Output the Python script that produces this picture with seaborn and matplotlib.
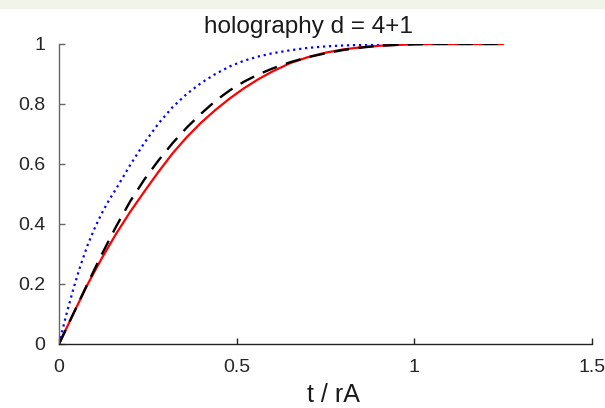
import matplotlib
matplotlib.use('Agg')
import matplotlib.pyplot as plt
import seaborn as sns
import numpy as np
from matplotlib.patches import Rectangle

# values
red_t = [0, 0.04, 0.08, 0.12, 0.16, 0.2, 0.24, 0.28, 0.32, 0.36, 0.40, 0.44, 0.48,
         0.52, 0.56, 0.60, 0.65, 0.70, 0.75, 0.80, 0.85, 0.90, 0.95, 1.0, 1.05, 1.25]
red_y = [0, 0.10, 0.198, 0.285, 0.366, 0.44, 0.508, 0.574, 0.636, 0.69, 0.738, 0.78, 0.818,
         0.852, 0.882, 0.908, 0.936, 0.956, 0.971, 0.982, 0.989, 0.994, 0.997, 0.999, 1.0, 1.0]

black_t = [0, 0.04, 0.08, 0.12, 0.16, 0.2, 0.24, 0.28, 0.32, 0.36, 0.40, 0.44, 0.48,
           0.52, 0.56, 0.60, 0.65, 0.70, 0.75, 0.80, 0.85, 0.90, 0.95, 1.0, 1.05, 1.25]
black_y = [0, 0.10, 0.20, 0.298, 0.39, 0.475, 0.548, 0.612, 0.67, 0.722, 0.768, 0.81, 0.845,
           0.874, 0.898, 0.918, 0.939, 0.956, 0.969, 0.98, 0.988, 0.994, 0.997, 0.999, 1.0, 1.0]

blue_t = [0, 0.02, 0.04, 0.06, 0.08, 0.10, 0.12, 0.14, 0.16, 0.2, 0.24, 0.28, 0.32, 0.36,
          0.40, 0.44, 0.48, 0.52, 0.56, 0.60, 0.65, 0.70, 0.75, 0.80, 0.85, 0.90, 1.0, 1.25]
blue_y = [0, 0.095, 0.182, 0.26, 0.328, 0.385, 0.435, 0.478, 0.516, 0.596, 0.67, 0.735, 0.79, 0.834,
          0.87, 0.90, 0.925, 0.944, 0.958, 0.969, 0.979, 0.987, 0.992, 0.995, 0.997, 0.999, 1.0, 1.0]

x_ticks = [0, 0.5, 1, 1.5]
y_ticks = [0, 0.2, 0.4, 0.6, 0.8, 1]

sns.set_style('ticks')
plt.rcParams['font.family'] = ['Liberation Sans', 'DejaVu Sans']

fig = plt.figure(figsize=(6.05, 4.08), dpi=100)
fig.patches.append(Rectangle((0, 1 - 8 / 408), 1, 8 / 408, transform=fig.transFigure,
                             color='#f1f4e8', zorder=0))
ax = fig.add_axes([59 / 605, 1 - 344 / 408, 533 / 605, 300 / 408])

sns.lineplot(x=blue_t, y=blue_y, ax=ax, color='#0000ff', linewidth=1.6,
             linestyle=(0, (1, 1.7)), dash_capstyle='butt')
sns.lineplot(x=red_t, y=red_y, ax=ax, color='#ff0000', linewidth=1.6)
sns.lineplot(x=black_t, y=black_y, ax=ax, color='black', linewidth=1.7,
             linestyle=(0, (6.5, 4.0)))

ax.set_xlim(0, 1.5)
ax.set_ylim(0, 1)
ax.set_xticks(x_ticks)
ax.set_xticklabels(['0', '0.5', '1', '1.5'])
ax.set_yticks(y_ticks)
ax.set_yticklabels(['0', '0.2', '0.4', '0.6', '0.8', '1'])
sns.despine(ax=ax)
ax.spines['left'].set_color('#666666')
ax.spines['bottom'].set_color('#222222')
ax.spines['left'].set_linewidth(1.0)
ax.spines['bottom'].set_linewidth(1.0)
ax.tick_params(axis='y', direction='in', length=4.5, width=1, color='#666666',
               labelsize=14, labelcolor='#262626', pad=10)
ax.tick_params(axis='x', direction='in', length=4.5, width=1, color='#222222',
               labelsize=14, labelcolor='#262626', pad=11)

ax.set_xlabel('t / rA', fontsize=18, color='#1a1a1a')
ax.xaxis.label.set_va('baseline')
ax.xaxis.set_label_coords(0.514, -0.193)
ax.set_ylabel('')

fig.text(308 / 605, 1 - 32.5 / 408, 'holography d = 4+1', fontsize=17.5,
         ha='center', va='baseline', color='#1a1a1a')

fig.savefig('out.png', dpi=100)
